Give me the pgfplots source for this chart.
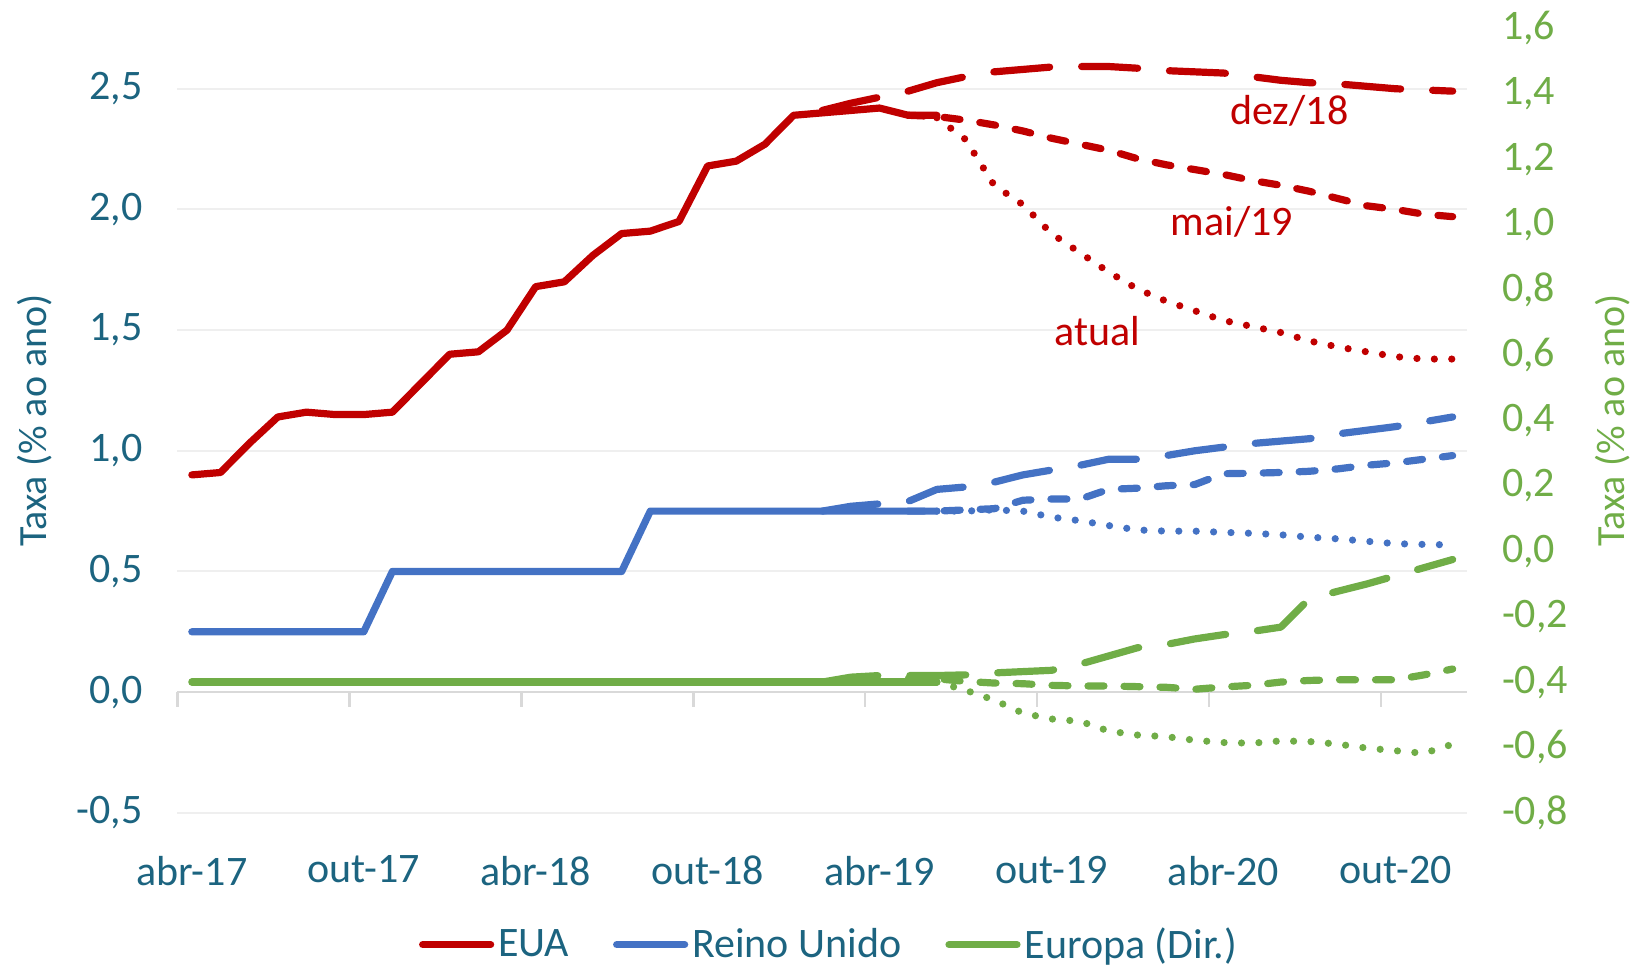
\documentclass[border=0pt]{standalone}
\usepackage{pgfplots}
\pgfplotsset{compat=1.18}
\usepackage{fontspec}
\setmainfont{Carlito}
\definecolor{eua}{HTML}{C00000}
\definecolor{uk}{HTML}{4472C4}
\definecolor{eu}{HTML}{70AD47}
\definecolor{teal}{HTML}{1C6480}
\definecolor{gridc}{HTML}{EFEFEF}
\definecolor{zeroc}{HTML}{D9D9D9}
\newcommand{\bigf}{\fontsize{21bp}{25bp}\selectfont}
\newcommand{\labf}{\fontsize{20bp}{24bp}\selectfont}
\begin{document}
\begin{tikzpicture}
\pgfplotsset{
  base/.style={scale only axis, width=644.75bp, height=392.2bp,
    xmin=-0.5, xmax=44.5, at={(0,0)}, anchor=south west,
    axis line style={draw=none}, major tick length=0pt, clip=false,
    /pgf/number format/.cd, fixed, fixed zerofill, precision=1, use comma, assume math mode=true},
  hist/.style={line width=3.6bp, line cap=round, line join=round, mark=none},
  ldash/.style={line width=3.6bp, line cap=round, line join=round, mark=none, dash pattern=on 28bp off 16bp},
  mdash/.style={line width=3.6bp, line cap=round, line join=round, mark=none, dash pattern=on 8bp off 10bp},
  dotl/.style={line width=3.6bp, line cap=round, line join=round, mark=none, dash pattern=on 0bp off 8.7bp},
}
\begin{axis}[base,
  axis x line*=bottom, axis y line*=left,
  ymin=-0.5, ymax=2.75,
  ytick={-0.5,0,0.5,1,1.5,2,2.5},
  ymajorgrids, grid style={draw=gridc, line width=1bp},
  xtick={0,6,12,18,24,30,36,42},
  xticklabels={abr-17,out-17,abr-18,out-18,abr-19,out-19,abr-20,out-20},
  xticklabel style={font=\bigf, text=teal, yshift=-18bp},
  yticklabel style={font=\bigf, text=teal, xshift=-14bp},
  ylabel={Taxa (\% ao ano)},
  ylabel style={font=\labf, text=teal, at={(axis description cs:-0.1109,0.5)}, anchor=center},
]
\draw[zeroc, line width=1.2bp] (axis cs:-0.5,0) -- (axis cs:44.5,0);
\pgfplotsinvokeforeach{-0.5,5.5,11.5,17.5,23.5,29.5,35.5,41.5}{
  \draw[zeroc, line width=1.2bp] (axis cs:#1,0) -- ([yshift=-7.3bp]axis cs:#1,0);
}
% EUA
\addplot[hist, eua] table {
0 0.90
1 0.91
2 1.03
3 1.14
4 1.16
5 1.15
6 1.15
7 1.16
8 1.28
9 1.40
10 1.41
11 1.50
12 1.68
13 1.70
14 1.81
15 1.90
16 1.91
17 1.95
18 2.18
19 2.20
20 2.27
21 2.39
22 2.40
23 2.41
24 2.42
25 2.39
26 2.39
};
\addplot[ldash, eua] table {
22 2.41
23 2.44
24 2.465
25 2.49
26 2.525
27 2.55
28 2.57
29 2.58
30 2.59
31 2.592
32 2.592
33 2.585
34 2.575
35 2.57
36 2.565
37 2.55
38 2.535
39 2.525
40 2.52
41 2.51
42 2.50
43 2.495
44 2.49
};
\addplot[mdash, eua] table {
25 2.39
26 2.385
27 2.37
28 2.35
29 2.325
30 2.295
31 2.27
32 2.245
33 2.21
34 2.185
35 2.165
36 2.145
37 2.12
38 2.10
39 2.075
40 2.045
41 2.015
42 2.00
43 1.98
44 1.97
};
\addplot[dotl, eua] table {
26 2.38
27 2.29
28 2.10
29 2.02
30 1.90
31 1.82
32 1.74
33 1.67
34 1.62
35 1.58
36 1.54
37 1.515
38 1.49
39 1.455
40 1.43
41 1.41
42 1.39
43 1.38
44 1.38
};
% Reino Unido
\addplot[hist, uk] table {
0 0.25
1 0.25
2 0.25
3 0.25
4 0.25
5 0.25
6 0.25
7 0.50
8 0.50
9 0.50
10 0.50
11 0.50
12 0.50
13 0.50
14 0.50
15 0.50
16 0.75
17 0.75
18 0.75
19 0.75
20 0.75
21 0.75
22 0.75
23 0.75
24 0.75
25 0.75
26 0.75
};
\addplot[ldash, uk] table {
22 0.75
23 0.77
24 0.78
25 0.79
26 0.84
27 0.85
28 0.87
29 0.90
30 0.92
31 0.94
32 0.965
33 0.965
34 0.98
35 1.00
36 1.015
37 1.03
38 1.04
39 1.05
40 1.07
41 1.085
42 1.10
43 1.12
44 1.14
};
\addplot[mdash, uk] table {
25 0.75
26 0.75
27 0.755
28 0.76
29 0.795
30 0.80
31 0.80
32 0.84
33 0.845
34 0.855
35 0.86
36 0.905
37 0.907
38 0.91
39 0.915
40 0.925
41 0.94
42 0.95
43 0.965
44 0.98
};
\addplot[dotl, uk] table {
26 0.75
27 0.75
28 0.755
29 0.75
30 0.725
31 0.71
32 0.69
33 0.672
34 0.667
35 0.667
36 0.662
37 0.658
38 0.652
39 0.642
40 0.635
41 0.625
42 0.615
43 0.612
44 0.61
};
\node[text=eua, font=\bigf] at (axis cs:38.3,2.41) {dez/18};
\node[text=eua, font=\bigf] at (axis cs:36.3,1.95) {mai/19};
\node[text=eua, font=\bigf] at (axis cs:31.6,1.495) {atual};
\end{axis}
\begin{axis}[base,
  axis y line*=right, axis x line*=bottom,
  xtick=\empty,
  ymin=-0.8, ymax=1.6,
  ytick={-0.8,-0.6,-0.4,-0.2,0,0.2,0.4,0.6,0.8,1.0,1.2,1.4,1.6},
  yticklabel style={font=\bigf, text=eu, xshift=14bp},
  ylabel={Taxa (\% ao ano)},
  ylabel style={font=\labf, text=eu, at={(axis description cs:1.1132,0.5)}, anchor=center},
  legend columns=3,
  legend style={at={(0.506,-0.168)}, anchor=center, draw=none, fill=none,
    font=\bigf, text=teal,
    /tikz/every even column/.append style={column sep=20bp}},
  legend image code/.code={\draw[#1, line width=3.6bp, line cap=round] (0bp,0bp) -- (34bp,0bp);},
]
\addlegendimage{eua}
\addlegendentry{EUA}
\addlegendimage{uk}
\addlegendentry{Reino Unido}
\addplot[hist, eu] table {
0 -0.40
6 -0.40
12 -0.40
18 -0.40
24 -0.40
26 -0.40
};
\addlegendentry{Europa (Dir.)}
\addplot[ldash, eu, forget plot] table {
22 -0.40
23 -0.385
24 -0.38
25 -0.38
26 -0.38
27 -0.378
28 -0.372
29 -0.368
30 -0.364
31 -0.345
32 -0.32
33 -0.295
34 -0.285
35 -0.268
36 -0.255
37 -0.245
38 -0.232
39 -0.145
40 -0.122
41 -0.10
42 -0.075
43 -0.05
44 -0.025
};
\addplot[mdash, eu, forget plot] table {
25 -0.39
26 -0.39
27 -0.398
28 -0.403
29 -0.405
30 -0.41
31 -0.412
32 -0.412
33 -0.414
34 -0.416
35 -0.422
36 -0.415
37 -0.41
38 -0.40
39 -0.395
40 -0.393
41 -0.393
42 -0.393
43 -0.378
44 -0.36
};
\addplot[dotl, eu, forget plot] table {
26 -0.40
27 -0.425
28 -0.455
29 -0.495
30 -0.513
31 -0.52
32 -0.55
33 -0.562
34 -0.567
35 -0.578
36 -0.585
37 -0.587
38 -0.58
39 -0.582
40 -0.59
41 -0.602
42 -0.61
43 -0.618
44 -0.59
};
\end{axis}
\pgfresetboundingbox
\path[use as bounding box] (-88.75bp,-75.65bp) rectangle (729.75bp,406.4bp);
\end{tikzpicture}
\end{document}
